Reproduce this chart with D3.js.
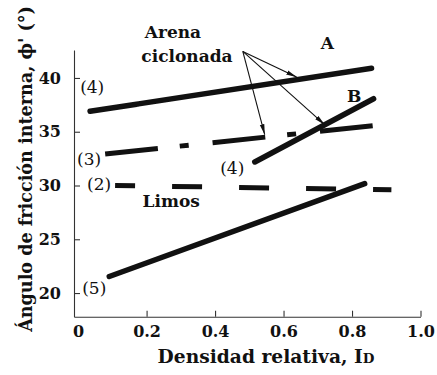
<!DOCTYPE html>
<html>
<head>
<meta charset="utf-8">
<script src="https://cdn.jsdelivr.net/npm/d3@7"></script>
<style>
  body { margin: 0; background: #fff; }
  svg { display: block; }
</style>
</head>
<body>
<svg id="chart" width="437" height="375"></svg>
<script>
// Axis ticks
const xTicks = [0, 0.2, 0.4, 0.6, 0.8, 1.0];
const xTickLabels = ["0", "0.2", "0.4", "0.6", "0.8", "1.0"];
const yTicks = [20, 25, 30, 35, 40];

// Friction angle vs relative density, [I_D, phi'] end points of each trend
const lineA = [[0.035, 36.9], [0.857, 40.9]];   // (4) A
const line3 = [[0.079, 32.93], [0.872, 35.59]]; // (3)
const line2 = [[0.108, 30.0], [0.915, 29.6]];   // (2) limos
const line5 = [[0.091, 21.54], [0.837, 30.17]]; // (5)
const lineB = [[0.516, 32.19], [0.863, 38.07]]; // (4) B

// Curve tags and notes, [I_D, phi'] anchor of each text
const tagNames = ["(4)", "(3)", "(2)", "(5)", "(4)"];
const tagPos = [[0.006, 38.6], [-0.003, 31.9], [0.026, 29.55], [0.012, 19.9], [0.415, 31.07]];
const noteNames = ["A", "B", "Limos", "Arena", "ciclonada"];
const notePos = [[0.709, 42.72], [0.785, 37.78], [0.272, 28.0], [0.277, 43.74], [0.318, 41.5]];

// "Arena ciclonada" pointers
const arrowFrom = [0.481, 42.47];
const arrowTo = [[0.638, 40.09], [0.545, 34.73], [0.720, 35.66]];

const svg = d3.select("#chart");
const ink = "#111";
const serif = "'DejaVu Serif', serif";

const x = d3.scaleLinear().domain([-0.012, 1]).range([74, 420.5]);
const y = d3.scaleLinear().domain([17.8, 42.6]).range([316.7, 50]);

// Axes with inward ticks
const gx = svg.append("g").attr("transform", `translate(0,${y.range()[0]})`)
  .call(d3.axisBottom(x).tickValues(xTicks)
    .tickFormat((d, i) => xTickLabels[i])
    .tickSizeInner(-6).tickSizeOuter(0).tickPadding(9));
const gy = svg.append("g").attr("transform", `translate(${x.range()[0]},0)`)
  .call(d3.axisLeft(y).tickValues(yTicks)
    .tickSizeInner(-6).tickSizeOuter(0).tickPadding(13));

[gx, gy].forEach(g => {
  g.selectAll("path.domain").attr("stroke", "#333").attr("stroke-width", 1.1);
  g.selectAll(".tick line").attr("stroke", "#333").attr("stroke-width", 1.1);
  g.selectAll(".tick text").attr("fill", ink)
    .style("font-family", serif).style("font-size", "16px").style("font-weight", "bold");
});
gx.selectAll(".tick").filter(d => d === 0).select("line").remove();

// Trend lines
const lineGen = d3.line().x(d => x(d[0])).y(d => y(d[1]));
const plot = svg.append("g").attr("fill", "none").attr("stroke", ink);

plot.append("path").datum(lineA).attr("d", lineGen)
  .attr("stroke-width", 5.5).attr("stroke-linecap", "round")
  .attr("stroke-dasharray", "47,2,2000");
plot.append("path").datum(lineB).attr("d", lineGen)
  .attr("stroke-width", 5.5).attr("stroke-linecap", "round");
plot.append("path").datum(line5).attr("d", lineGen)
  .attr("stroke-width", 5.5).attr("stroke-linecap", "round");
plot.append("path").datum(line3).attr("d", lineGen)
  .attr("stroke-width", 5).attr("stroke-linecap", "butt")
  .attr("stroke-dasharray", "53,22,9,24");
plot.append("path").datum(line2).attr("d", lineGen)
  .attr("stroke-width", 5).attr("stroke-linecap", "butt")
  .attr("stroke-dasharray", "30,37").attr("stroke-dashoffset", 10);

// Pointers
const defs = svg.append("defs");
defs.append("marker").attr("id", "head")
  .attr("markerUnits", "userSpaceOnUse")
  .attr("viewBox", "0 -3 11 6").attr("refX", 10.5).attr("refY", 0)
  .attr("markerWidth", 11).attr("markerHeight", 6).attr("orient", "auto")
  .append("path").attr("d", "M0,-2.3L11,0L0,2.3Z").attr("fill", ink);

svg.append("g").selectAll("line").data(arrowTo).join("line")
  .attr("x1", x(arrowFrom[0])).attr("y1", y(arrowFrom[1]))
  .attr("x2", d => x(d[0])).attr("y2", d => y(d[1]))
  .attr("stroke", ink).attr("stroke-width", 1.1)
  .attr("marker-end", "url(#head)");

// Curve tags
svg.append("g").selectAll("text").data(tagNames).join("text")
  .attr("x", (d, i) => x(tagPos[i][0])).attr("y", (d, i) => y(tagPos[i][1]))
  .attr("fill", ink).style("font-family", serif).style("font-size", "17px")
  .text(d => d);

// Notes
svg.append("g").selectAll("text").data(noteNames).join("text")
  .attr("x", (d, i) => x(notePos[i][0])).attr("y", (d, i) => y(notePos[i][1]))
  .attr("text-anchor", (d, i) => i < 2 ? "start" : "middle")
  .attr("fill", ink).style("font-family", serif).style("font-size", "17px")
  .style("font-weight", "bold")
  .text(d => d);

// Fit a title to a given length by scaling its font size
function fitText(t, len) {
  const fs = parseFloat(t.attr("font-size"));
  const w = t.node().getComputedTextLength();
  t.attr("font-size", fs * len / w);
}

const xTitle = svg.append("text")
  .attr("x", 266).attr("y", 363).attr("text-anchor", "middle")
  .attr("fill", ink).attr("font-family", serif).attr("font-weight", "bold")
  .attr("font-size", 18);
xTitle.append("tspan").text("Densidad relativa, I");
xTitle.append("tspan").attr("font-size", "0.72em").text("D");
fitText(xTitle, 217);

const yTitle = svg.append("text")
  .attr("transform", "translate(32,169) rotate(-90)")
  .attr("text-anchor", "middle")
  .attr("fill", ink).attr("font-family", serif).attr("font-weight", "bold")
  .attr("font-size", 18)
  .text("Ángulo de fricción interna, ϕ' (°)");
fitText(yTitle, 326);
</script>
</body>
</html>
